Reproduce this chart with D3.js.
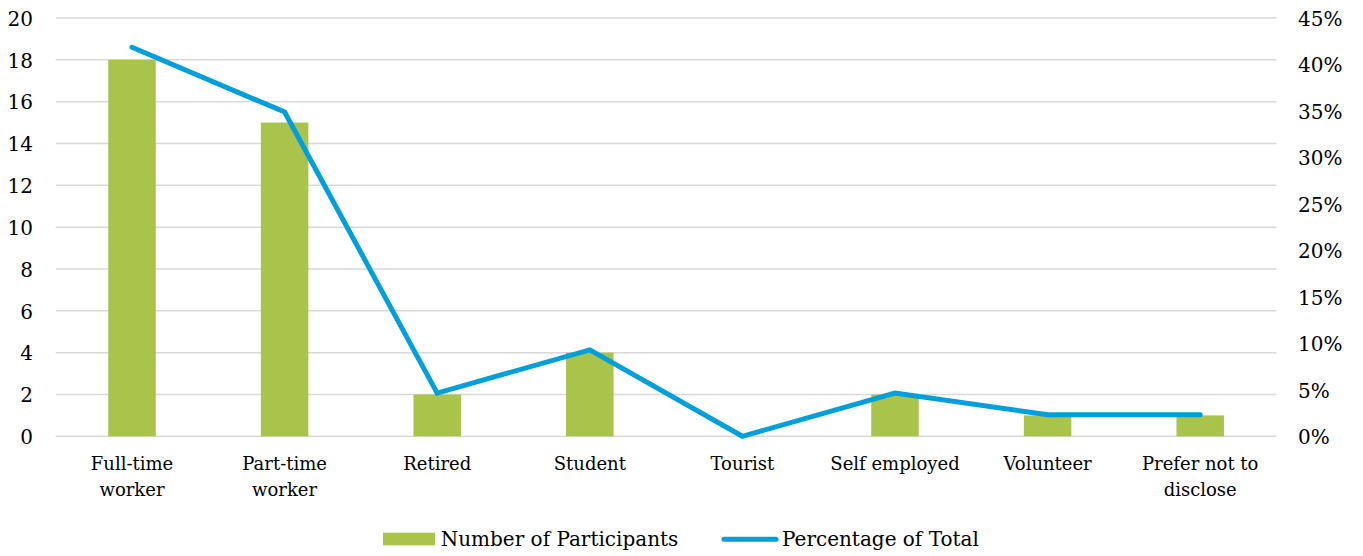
<!DOCTYPE html>
<html><head><meta charset="utf-8">
<script src="https://cdn.jsdelivr.net/npm/d3@7"></script>
<style>body{margin:0;background:#fff}svg{display:block}</style>
</head><body><svg id="chart" width="1363" height="556"></svg>
<script>
const categories = ["Full-time worker","Part-time worker","Retired","Student","Tourist","Self employed","Volunteer","Prefer not to disclose"];
const categoryLines = [["Full-time","worker"],["Part-time","worker"],["Retired"],["Student"],["Tourist"],["Self employed"],["Volunteer"],["Prefer not to","disclose"]];
const participants = [18,15,2,4,0,2,1,1];
const percentOfTotal = [41.86,34.88,4.65,9.30,0,4.65,2.33,2.33];
const leftTicks = [0,2,4,6,8,10,12,14,16,18,20];
const rightTicks = [0,5,10,15,20,25,30,35,40,45];
const seriesNames = ["Number of Participants","Percentage of Total"];

const FONT = "DejaVu Serif";
const GREEN = "#A9C34B", BLUE = "#009FDA", GRID = "#D9D9D9";

const svg = d3.select("#chart");
const x = d3.scaleBand().domain(categories).range([55.7,1276.5]).padding(0);
const y = d3.scaleLinear().domain([0,20]).range([436.3,18]);
const y2 = d3.scaleLinear().domain([0,45]).range([436.3,18]);
const barW = 47.5;

// gridlines
svg.append("g").selectAll("line").data(leftTicks).join("line")
  .attr("x1",55.7).attr("x2",1276.5)
  .attr("y1",d=>y(d)).attr("y2",d=>y(d))
  .attr("stroke",GRID).attr("stroke-width",1.5);

// left axis
const gl = svg.append("g").attr("transform","translate(55.7,0)")
  .call(d3.axisLeft(y).tickValues(leftTicks).tickSize(0).tickPadding(22.7));
gl.select(".domain").remove();
gl.selectAll("text").attr("font-family",FONT).attr("font-size",20).attr("fill","#000").attr("dy","0.36em");

// right axis
const gr = svg.append("g").attr("transform","translate(1276.5,0)")
  .call(d3.axisRight(y2).tickValues(rightTicks).tickSize(0).tickPadding(21.5).tickFormat(d=>d+"%"));
gr.select(".domain").remove();
gr.selectAll("text").attr("font-family",FONT).attr("font-size",20).attr("fill","#000").attr("dy","0.36em");

// bottom axis
const gb = svg.append("g").attr("transform","translate(0,436.3)")
  .call(d3.axisBottom(x).tickSize(0).tickPadding(0).tickFormat(""));
gb.select(".domain").remove();
gb.selectAll(".tick text").each(function(d,i){
  const t = d3.select(this).attr("font-family",FONT).attr("font-size",18).attr("fill","#000").attr("y",34.2).attr("dy",null);
  categoryLines[i].forEach((ln,j)=>{
    t.append("tspan").attr("x",0).attr("dy", j===0?0:25.5).text(ln);
  });
});

// bars
svg.append("g").selectAll("rect").data(participants).join("rect")
  .attr("x",(d,i)=>x(categories[i])+x.bandwidth()/2-barW/2)
  .attr("width",barW)
  .attr("y",d=>y(d)).attr("height",d=>y(0)-y(d))
  .attr("fill",GREEN);

// line
const line = d3.line().x((d,i)=>x(categories[i])+x.bandwidth()/2).y(d=>y2(d));
svg.append("path").datum(percentOfTotal).attr("d",line)
  .attr("fill","none").attr("stroke",BLUE).attr("stroke-width",5)
  .attr("stroke-linecap","round").attr("stroke-linejoin","miter");

// legend
const lg = svg.append("g");
lg.append("rect").attr("x",383).attr("y",532.7).attr("width",52).attr("height",12.6).attr("fill",GREEN);
lg.append("text").attr("x",440.7).attr("y",546).attr("font-family",FONT).attr("font-size",20).text(seriesNames[0]);
lg.append("line").attr("x1",724).attr("x2",776).attr("y1",539.3).attr("y2",539.3)
  .attr("stroke",BLUE).attr("stroke-width",5).attr("stroke-linecap","round");
lg.append("text").attr("x",782).attr("y",546).attr("font-family",FONT).attr("font-size",20).text(seriesNames[1]);
</script></body></html>
